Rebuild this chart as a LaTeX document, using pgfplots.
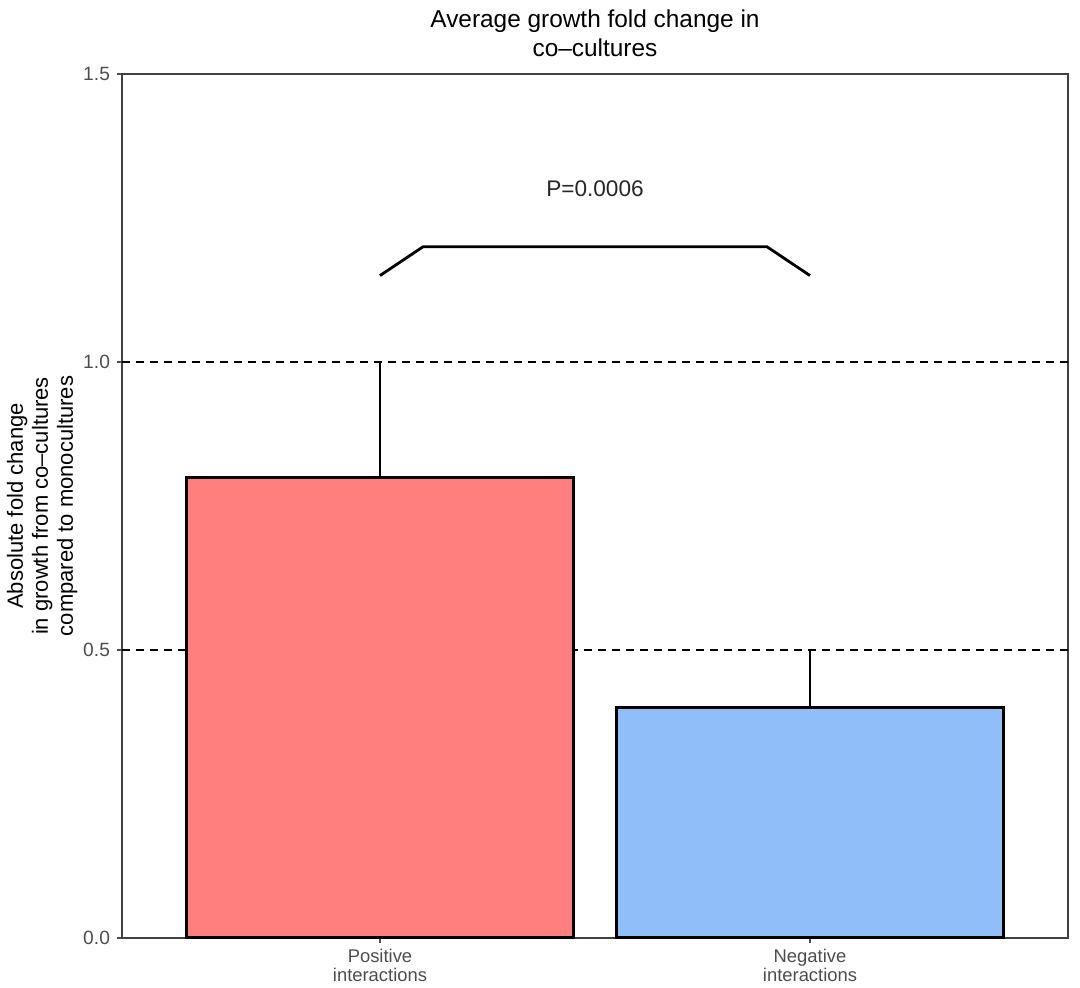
\documentclass[border=0pt]{standalone}
\usepackage{pgfplots}
\pgfplotsset{compat=1.18}
\usepackage{fontspec}
\setmainfont{Liberation Sans}
\definecolor{posred}{HTML}{FF7F7F}
\definecolor{negblue}{HTML}{8FBEF8}
\definecolor{tickgrey}{HTML}{4D4D4D}
\begin{document}
\begin{tikzpicture}
\begin{axis}[
  name=ax,
  scale only axis,
  width=473pt, height=432pt,
  xmin=0.4, xmax=2.6,
  ymin=0, ymax=1.5,
  xtick={1,2},
  xticklabels={Positive\\interactions, Negative\\interactions},
  xticklabel style={align=center, font=\fontsize{9.2}{9.6}\selectfont, text=tickgrey, inner sep=1pt, yshift=-2pt},
  ytick={0,0.5,1,1.5},
  yticklabel style={font=\fontsize{9.6}{10}\selectfont, text=tickgrey},
  /pgf/number format/assume math mode=true,
  /pgf/number format/fixed,
  /pgf/number format/fixed zerofill,
  /pgf/number format/precision=1,
  tick align=outside,
  major tick length=2.5pt,
  tick style={line width=1pt, color=tickgrey},
  axis line style={line width=1pt, color=black!75},
  xtick pos=bottom, ytick pos=left,
  title={Average growth fold change in\\co\textendash cultures},
  title style={align=center, font=\fontsize{12.2}{14.5}\selectfont, yshift=-1pt},
  ylabel={Absolute fold change\\in growth from co\textendash cultures\\compared to monocultures},
  ylabel style={align=center, font=\fontsize{11}{12.5}\selectfont, yshift=-4pt},
  clip=false,
]
\addplot[black, line width=1.2pt, dash pattern=on 4pt off 3pt] coordinates {(0.4,0.5) (2.6,0.5)};
\addplot[black, line width=1.2pt, dash pattern=on 4pt off 3pt] coordinates {(0.4,1.0) (2.6,1.0)};
\addplot[black, line width=1.4pt] coordinates {(1,0.8) (1,1.0)};
\addplot[black, line width=1.4pt] coordinates {(2,0.4) (2,0.5)};
\addplot[ybar, bar width=0.9, bar shift=0pt, fill=posred, draw=black, line width=1.5pt] coordinates {(1,0.8)};
\addplot[ybar, bar width=0.9, bar shift=0pt, fill=negblue, draw=black, line width=1.5pt] coordinates {(2,0.4)};
\addplot[black, line width=1.4pt] coordinates {(1,1.15) (1.1,1.2) (1.9,1.2) (2,1.15)};
\node[font=\fontsize{11.3}{13}\selectfont, text=black!85] at (axis cs:1.5,1.3) {P=0.0006};
\end{axis}
\path ([shift={(-61pt,-25pt)}]ax.south west) rectangle ([shift={(6pt,37pt)}]ax.north east);
\end{tikzpicture}
\end{document}
